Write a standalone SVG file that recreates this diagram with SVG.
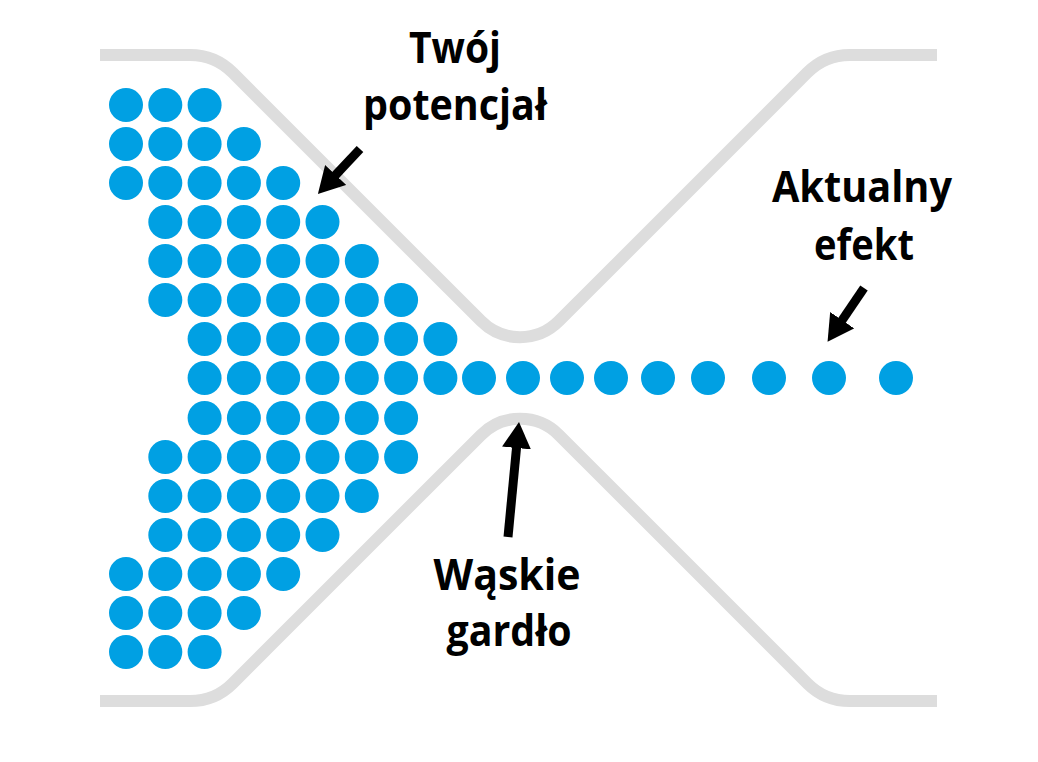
<svg xmlns="http://www.w3.org/2000/svg" width="1038" height="762" viewBox="0 0 1038 762">
<defs>
<style>
.wall{fill:none;stroke:#dddddd;stroke-width:12;stroke-linejoin:round}
.dot{fill:#00a0e3}
.lbl{font-family:"Open Sans","Liberation Sans",sans-serif;font-weight:bold;font-size:43px;fill:#000;text-anchor:middle}
.arr{stroke:#000;stroke-width:9;fill:none;marker-end:url(#head)}
</style>
<marker id="head" markerUnits="userSpaceOnUse" viewBox="0 0 26 29" markerWidth="26" markerHeight="29" refX="1" refY="14.5" orient="auto">
<path d="M0,0 L26,14.5 L0,29 z" fill="#000"/>
</marker>
<circle id="d" r="17" class="dot"/>
</defs>
<rect width="1038" height="762" fill="#fff"/>
<g id="funnel">
<path class="wall" d="M100,55 H190.1 A60,60 0 0 1 232.6,72.6 L481.1,321.1 A55,55 0 0 0 558.9,321.1 L807.4,72.6 A60,60 0 0 1 849.9,55 H937"/>
<path class="wall" d="M100,701 H190.1 A60,60 0 0 0 232.6,683.4 L481.1,434.9 A55,55 0 0 1 558.9,434.9 L807.4,683.4 A60,60 0 0 0 849.9,701 H937"/>
</g>
<g id="dots">
<!-- row 0 y=105 -->
<use href="#d" x="126" y="105"/><use href="#d" x="165.3" y="105"/><use href="#d" x="204.6" y="105"/>
<!-- row 1 y=144 -->
<use href="#d" x="126" y="144"/><use href="#d" x="165.3" y="144"/><use href="#d" x="204.6" y="144"/><use href="#d" x="243.9" y="144"/>
<!-- row 2 y=183 -->
<use href="#d" x="126" y="183"/><use href="#d" x="165.3" y="183"/><use href="#d" x="204.6" y="183"/><use href="#d" x="243.9" y="183"/><use href="#d" x="283.2" y="183"/>
<!-- row 3 y=222 -->
<use href="#d" x="165.3" y="222"/><use href="#d" x="204.6" y="222"/><use href="#d" x="243.9" y="222"/><use href="#d" x="283.2" y="222"/><use href="#d" x="322.5" y="222"/>
<!-- row 4 y=261 -->
<use href="#d" x="165.3" y="261"/><use href="#d" x="204.6" y="261"/><use href="#d" x="243.9" y="261"/><use href="#d" x="283.2" y="261"/><use href="#d" x="322.5" y="261"/><use href="#d" x="361.8" y="261"/>
<!-- row 5 y=300 -->
<use href="#d" x="165.3" y="300"/><use href="#d" x="204.6" y="300"/><use href="#d" x="243.9" y="300"/><use href="#d" x="283.2" y="300"/><use href="#d" x="322.5" y="300"/><use href="#d" x="361.8" y="300"/><use href="#d" x="401.1" y="300"/>
<!-- row 6 y=339 -->
<use href="#d" x="204.6" y="339"/><use href="#d" x="243.9" y="339"/><use href="#d" x="283.2" y="339"/><use href="#d" x="322.5" y="339"/><use href="#d" x="361.8" y="339"/><use href="#d" x="401.1" y="339"/><use href="#d" x="440.4" y="339"/>
<!-- row 7 y=378 -->
<use href="#d" x="204.6" y="378"/><use href="#d" x="243.9" y="378"/><use href="#d" x="283.2" y="378"/><use href="#d" x="322.5" y="378"/><use href="#d" x="361.8" y="378"/><use href="#d" x="401.1" y="378"/><use href="#d" x="440.4" y="378"/>
<use href="#d" x="479" y="378"/><use href="#d" x="523" y="378"/><use href="#d" x="567" y="378"/><use href="#d" x="611" y="378"/><use href="#d" x="658" y="378"/><use href="#d" x="708" y="378"/><use href="#d" x="769" y="378"/><use href="#d" x="829" y="378"/><use href="#d" x="896" y="378"/>
<!-- row 8 y=418 -->
<use href="#d" x="204.6" y="418"/><use href="#d" x="243.9" y="418"/><use href="#d" x="283.2" y="418"/><use href="#d" x="322.5" y="418"/><use href="#d" x="361.8" y="418"/><use href="#d" x="401.1" y="418"/>
<!-- row 9 y=457 -->
<use href="#d" x="165.3" y="457"/><use href="#d" x="204.6" y="457"/><use href="#d" x="243.9" y="457"/><use href="#d" x="283.2" y="457"/><use href="#d" x="322.5" y="457"/><use href="#d" x="361.8" y="457"/><use href="#d" x="401.1" y="457"/>
<!-- row 10 y=496 -->
<use href="#d" x="165.3" y="496"/><use href="#d" x="204.6" y="496"/><use href="#d" x="243.9" y="496"/><use href="#d" x="283.2" y="496"/><use href="#d" x="322.5" y="496"/><use href="#d" x="361.8" y="496"/>
<!-- row 11 y=535 -->
<use href="#d" x="165.3" y="535"/><use href="#d" x="204.6" y="535"/><use href="#d" x="243.9" y="535"/><use href="#d" x="283.2" y="535"/><use href="#d" x="322.5" y="535"/>
<!-- row 12 y=574 -->
<use href="#d" x="126" y="574"/><use href="#d" x="165.3" y="574"/><use href="#d" x="204.6" y="574"/><use href="#d" x="243.9" y="574"/><use href="#d" x="283.2" y="574"/>
<!-- row 13 y=613 -->
<use href="#d" x="126" y="613"/><use href="#d" x="165.3" y="613"/><use href="#d" x="204.6" y="613"/><use href="#d" x="243.9" y="613"/>
<!-- row 14 y=652 -->
<use href="#d" x="126" y="652"/><use href="#d" x="165.3" y="652"/><use href="#d" x="204.6" y="652"/>
</g>
<g id="label-potential">
<text class="lbl" x="455" y="63" textLength="92" lengthAdjust="spacingAndGlyphs">Twój</text>
<text class="lbl" x="455" y="120" textLength="184" lengthAdjust="spacingAndGlyphs">potencjał</text>
</g>
<g id="label-effect">
<text class="lbl" x="862" y="202" textLength="180" lengthAdjust="spacingAndGlyphs">Aktualny</text>
<text class="lbl" x="864" y="260" textLength="100" lengthAdjust="spacingAndGlyphs">efekt</text>
</g>
<g id="label-bottleneck">
<text class="lbl" x="507" y="590" textLength="147" lengthAdjust="spacingAndGlyphs">Wąskie</text>
<text class="lbl" x="509" y="646" textLength="125" lengthAdjust="spacingAndGlyphs">gardło</text>
</g>
<g id="connectors">
<line class="arr" x1="360" y1="149" x2="335" y2="175.7"/>
<line class="arr" x1="864" y1="288" x2="841.6" y2="321"/>
<line class="arr" x1="508" y1="537" x2="516.6" y2="447"/>
</g>
</svg>
